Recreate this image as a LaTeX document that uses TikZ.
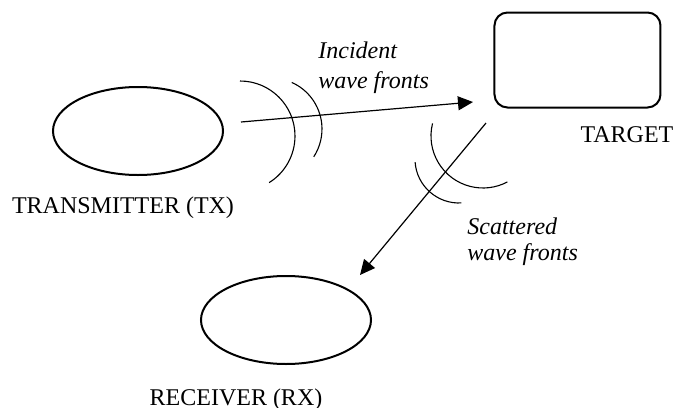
\documentclass[tikz,border=0pt]{standalone}
\usepackage{fontspec}
\setmainfont{Liberation Serif}
\usepackage{tikz}
\usetikzlibrary{shapes.geometric,arrows.meta}
\colorlet{ink}{black}
\tikzset{
  antenna/.style={draw=ink, ellipse, line width=1pt,
    minimum width=85pt, minimum height=44pt, inner sep=0pt},
  wave front/.style={draw=ink, line width=0.55pt},
  ray/.style={draw=ink, line width=0.6pt, -{Triangle[length=7.5pt,width=7pt]}},
  caption/.style={font=\fontsize{12}{14}\selectfont, inner sep=0pt, anchor=base},
  remark/.style={font=\fontsize{12}{14}\selectfont\itshape, inner sep=0pt,
    align=left, anchor=west}
}

\begin{document}
\begin{tikzpicture}[x=0.5pt, y=-0.5pt]
\useasboundingbox (0,0) rectangle (677,408);
% transmitter, target, receiver
\node[antenna] (tx) at (138,131) {};
\node[draw=ink, line width=1pt, rounded corners=6.5pt,
  minimum width=83pt, minimum height=47.5pt] (target) at (577.5,60) {};
\node[antenna] (rx) at (286,320) {};
\node[caption] (txLabel) at (123,213) {TRANSMITTER (TX)};
\node[caption] (targetLabel) at (627,142) {TARGET};
\node[caption] (rxLabel) at (236,405) {RECEIVER (RX)};
% incident path
\coordinate (incStart) at (241,122);
\coordinate (incEnd) at (473,102);
\coordinate (incFrontA) at (240,136);
\coordinate (incFrontB) at (271,129);
\draw[wave front] (incFrontA) ++(-90:55) arc[start angle=-90, end angle=58, radius=55];
\draw[wave front] (incFrontB) ++(-66:51) arc[start angle=-66, end angle=33, radius=51];
\draw[ray] (incStart) -- (incEnd);
\node[remark] (incText) at (318,68) {Incident\\[1pt]wave fronts};
% scattered path
\coordinate (scaStart) at (486,123);
\coordinate (scaEnd) at (360,275);
\coordinate (scaFrontA) at (483,136);
\coordinate (scaFrontB) at (459,159);
\draw[wave front] (scaFrontA) ++(194:52) arc[start angle=194, end angle=62, radius=52];
\draw[wave front] (scaFrontB) ++(176:44) arc[start angle=176, end angle=87, radius=44];
\draw[ray] (scaStart) -- (scaEnd);
\node[remark] (scaText) at (467,241.5) {Scattered\\[-1pt]wave fronts};
\end{tikzpicture}
\end{document}
